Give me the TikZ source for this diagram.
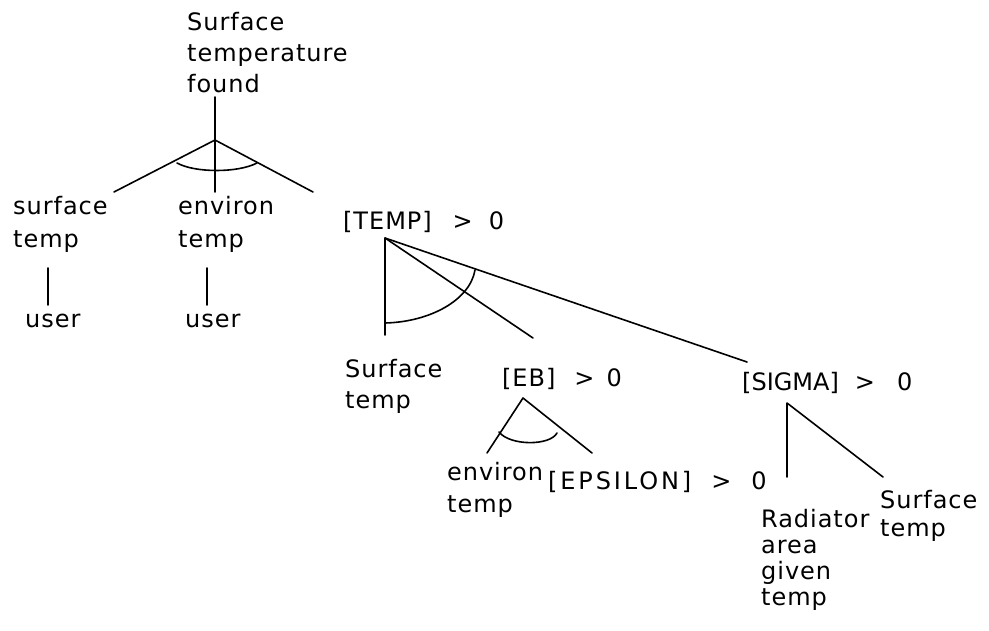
\documentclass[tikz,border=0pt]{standalone}
\usepackage{fontspec}
\setmainfont{DejaVu Sans}[LetterSpace=4]
\usetikzlibrary{calc}
\begin{document}
\begin{tikzpicture}[x=1pt,y=-1pt,
  lbl/.style={inner sep=0pt, anchor=base west, align=left, font=\fontsize{24}{31}\selectfont},
  edge/.style={line width=1.6pt, line cap=round, line join=round}]
\useasboundingbox (0,0) rectangle (989,631);
% labels (anchor = baseline of the last line)
\node[lbl] (top) at (187,93) {Surface\\temperature\\found};
\node[lbl, font=\fontsize{24}{33}\selectfont] (surf1) at (13,248) {surface\\temp};
\node[lbl, font=\fontsize{24}{33}\selectfont] (env1) at (178,248) {environ\\temp};
\node[lbl] (user1) at (25,328) {user};
\node[lbl] (user2) at (185,328) {user};
\node[lbl] (temp) at (343,230) {[TEMP]\hspace{21pt}>\hspace{16pt}0};
\node[lbl] (surf2) at (345,408) {Surface\\temp};
\node[lbl] (eb) at (502,386) {[EB]\hspace{19pt}>\hspace{12pt}0};
\node[lbl, font=\fontsize{24}{32}\selectfont] (env2) at (447,512) {environ\\temp};
\node[lbl, font=\fontsize{24}{31}\selectfont\addfontfeature{LetterSpace=12}] (eps) at (548,489) {[EPSILON]\hspace{20pt}>\hspace{20pt}0};
\node[lbl, font=\fontsize{24}{31}\selectfont\addfontfeature{LetterSpace=0}] (sig) at (742,391) {[SIGMA]\hspace{16pt}>\hspace{22pt}0};
\node[lbl, font=\fontsize{24}{26}\selectfont] (rad) at (761,605) {Radiator\\area\\given\\temp};
\node[lbl, font=\fontsize{24}{28}\selectfont] (surf3) at (880,536) {Surface\\temp};
% connector points
\coordinate (t0) at (215,97);
\coordinate (a0) at (215,140);
\coordinate (m0) at (215,192);
\coordinate (l0) at (114,192);
\coordinate (r0) at (313,192);
\coordinate (u1a) at (48,268);
\coordinate (u1b) at (48,305);
\coordinate (u2a) at (207,268);
\coordinate (u2b) at (207,305);
\coordinate (a1) at (385,238);
\coordinate (v1) at (385,335);
\coordinate (e1) at (533,338);
\coordinate (s1) at (747,362);
\coordinate (a2) at (523,398);
\coordinate (l2) at (487,453);
\coordinate (r2) at (592,453);
\coordinate (a3) at (787,403);
\coordinate (v3) at (787,477);
\coordinate (r3) at (883,477);
% connectors
\draw[edge] (t0) -- (m0);
\draw[edge] (l0) -- (a0) -- (r0);
\draw[edge] (177,163) .. controls (195,173) and (238,173) .. (257,163);
\draw[edge] (u1a) -- (u1b);
\draw[edge] (u2a) -- (u2b);
\draw[edge] (v1) -- (a1) -- (s1);
\draw[edge] (a1) -- (e1);
\draw[edge] (385,323) .. controls (430,322) and (470,300) .. (475,270);
\draw[edge] (l2) -- (a2) -- (r2);
\draw[edge] (499,432) .. controls (510,446) and (550,446) .. (557,433);
\draw[edge] (v3) -- (a3) -- (r3);
\end{tikzpicture}
\end{document}
